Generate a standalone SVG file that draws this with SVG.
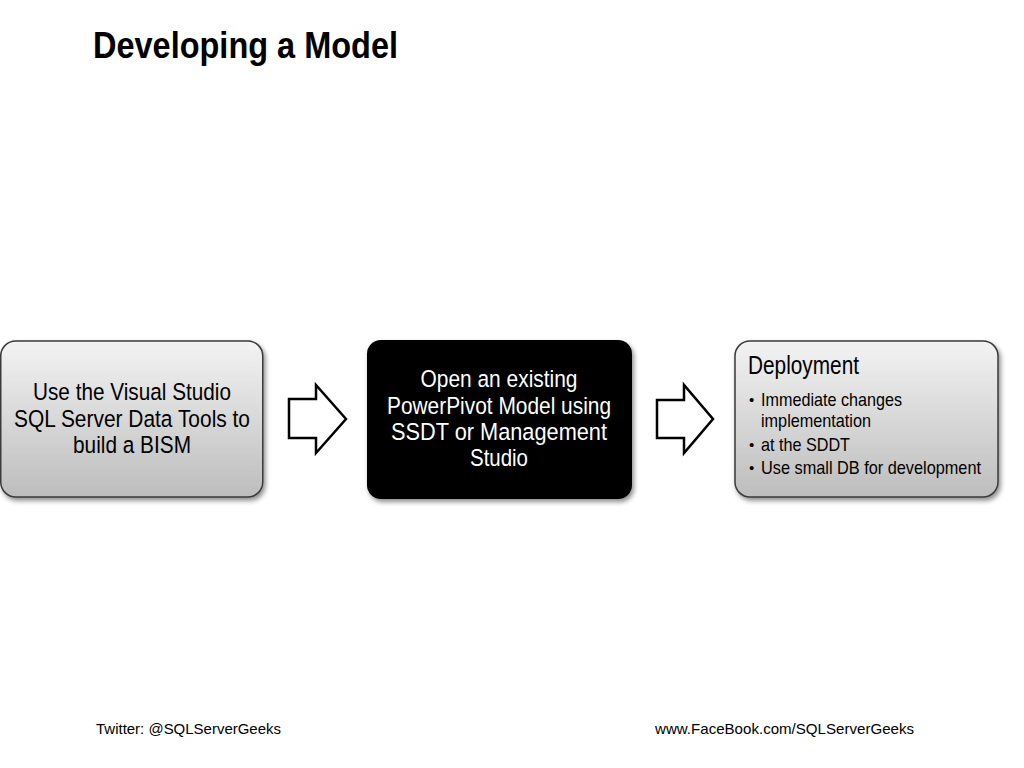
<svg xmlns="http://www.w3.org/2000/svg" width="1024" height="768" viewBox="0 0 1024 768">
<style>
.t{font-family:"Liberation Sans",Arial,sans-serif;}
.box{stroke:#3a3a3a;stroke-width:1.5;}
.arr{fill:#ffffff;stroke:#000000;stroke-width:2.5;stroke-linejoin:miter;}
.lbl{font-size:24.5px;fill:#000;text-anchor:middle;}
.wl{font-size:24.5px;fill:#fff;text-anchor:middle;}
.bul{font-size:18.5px;fill:#000;}
.dot{font-size:15px;fill:#000;}
.foot{font-family:"Liberation Sans",Arial,sans-serif;font-size:14px;fill:#000;}
</style>
<defs>
<linearGradient id="g" x1="0" y1="0" x2="0" y2="1">
<stop offset="0" stop-color="#f3f3f3"/>
<stop offset="1" stop-color="#bdbdbd"/>
</linearGradient>
<filter id="sh" x="-10%" y="-10%" width="120%" height="125%">
<feGaussianBlur in="SourceAlpha" stdDeviation="2.5"/>
<feOffset dx="1.5" dy="2.5" result="b"/>
<feComponentTransfer><feFuncA type="linear" slope="0.45"/></feComponentTransfer>
<feMerge><feMergeNode/><feMergeNode in="SourceGraphic"/></feMerge>
</filter>
</defs>
<rect width="1024" height="768" fill="#ffffff"/>
<text class="t" x="93" y="58" font-size="37" font-weight="bold" textLength="305" lengthAdjust="spacingAndGlyphs">Developing a Model</text>

<g id="node1">
<rect class="box" x="0.75" y="341" width="262" height="156" rx="15" fill="url(#g)" filter="url(#sh)"/>
<text class="t lbl" x="132" y="400" textLength="198" lengthAdjust="spacingAndGlyphs">Use the Visual Studio</text>
<text class="t lbl" x="132" y="427" textLength="236" lengthAdjust="spacingAndGlyphs">SQL Server Data Tools to</text>
<text class="t lbl" x="132" y="453" textLength="118" lengthAdjust="spacingAndGlyphs">build a BISM</text>
</g>

<g id="node2">
<rect x="367" y="340" width="265" height="159" rx="14" fill="#000000" filter="url(#sh)"/>
<text class="t wl" x="499" y="387" textLength="157" lengthAdjust="spacingAndGlyphs">Open an existing</text>
<text class="t wl" x="499" y="414" textLength="224" lengthAdjust="spacingAndGlyphs">PowerPivot Model using</text>
<text class="t wl" x="499" y="440" textLength="216" lengthAdjust="spacingAndGlyphs">SSDT or Management</text>
<text class="t wl" x="499" y="466" textLength="58" lengthAdjust="spacingAndGlyphs">Studio</text>
</g>

<g id="node3">
<rect class="box" x="735" y="341" width="263" height="156" rx="15" fill="url(#g)" filter="url(#sh)"/>
<text class="t" x="748" y="374" font-size="25" textLength="111" lengthAdjust="spacingAndGlyphs">Deployment</text>
<text class="t dot" x="749" y="405">•</text>
<text class="t bul" x="761" y="406" textLength="141" lengthAdjust="spacingAndGlyphs">Immediate changes</text>
<text class="t bul" x="761" y="427" textLength="110" lengthAdjust="spacingAndGlyphs">implementation</text>
<text class="t dot" x="749" y="450">•</text>
<text class="t bul" x="761" y="451" textLength="89" lengthAdjust="spacingAndGlyphs">at the SDDT</text>
<text class="t dot" x="749" y="473">•</text>
<text class="t bul" x="761" y="474" textLength="220" lengthAdjust="spacingAndGlyphs">Use small DB for development</text>
</g>

<g id="connectors">
<path class="arr" d="M289,399 L316,399 L316,385 L346,419 L316,453 L316,438 L289,438 Z"/>
<path class="arr" d="M657,400 L684,400 L684,385 L713,419 L684,453 L684,438 L657,438 Z"/>
</g>

<text class="foot" x="96" y="734" textLength="185" lengthAdjust="spacingAndGlyphs">Twitter: @SQLServerGeeks</text>
<text class="foot" x="655" y="734" textLength="259" lengthAdjust="spacingAndGlyphs">www.FaceBook.com/SQLServerGeeks</text>
</svg>
